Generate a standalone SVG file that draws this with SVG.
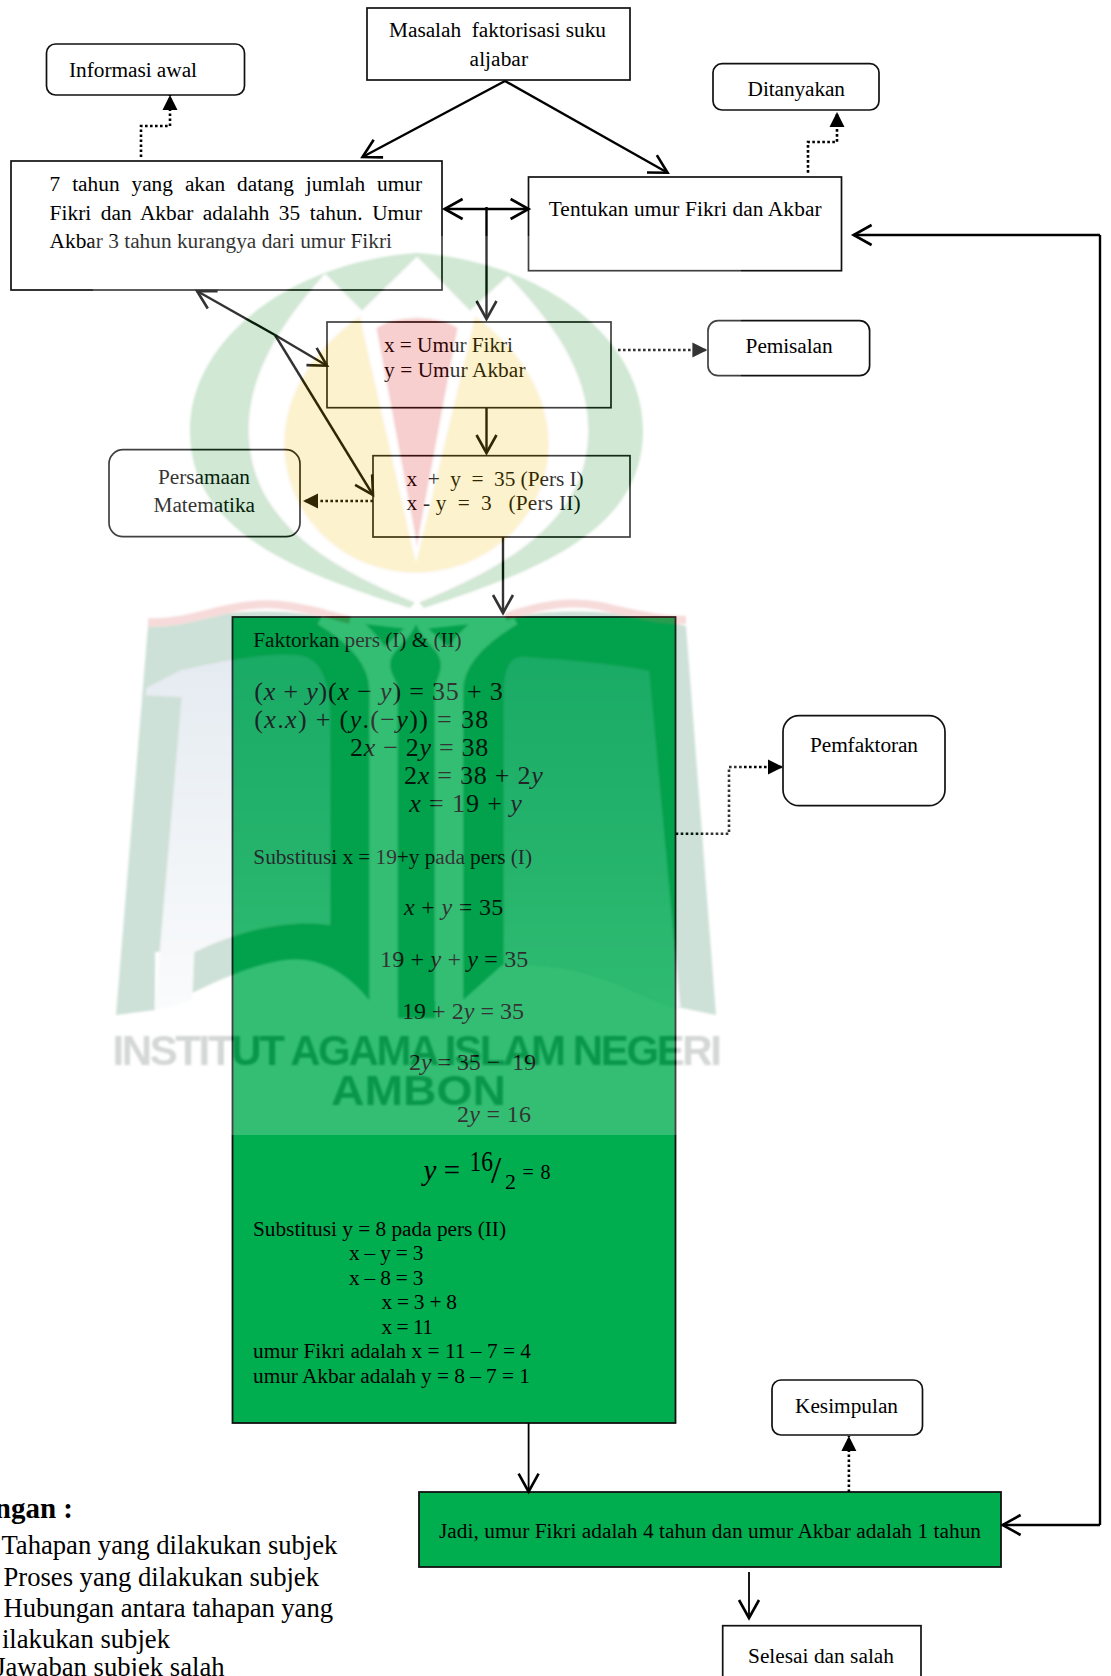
<svg xmlns="http://www.w3.org/2000/svg" width="1111" height="1676" viewBox="0 0 1111 1676">
<style>
text{font-family:"Liberation Serif","Times New Roman",serif;font-size:21.33px;fill:#000;white-space:pre}
.m{font-size:26px}
.n{font-size:24px}
.i{font-style:italic}
.l{font-size:26.67px}
.b{fill:#fff;stroke:#111;stroke-width:1.7}
.g{fill:#00ae50;stroke:#111;stroke-width:1.8}
.c{fill:none;stroke:#000;stroke-width:2.4}
.t{fill:none;stroke:#000;stroke-width:1.8}
.d{fill:none;stroke:#000;stroke-width:2.6;stroke-dasharray:2.6 2.4}
.wm{font-family:"Liberation Sans",Arial,sans-serif;font-weight:700;font-size:42px;fill:#2a3a35}
</style>
<defs>
<marker id="open" markerUnits="userSpaceOnUse" markerWidth="24" markerHeight="26" refX="20" refY="12" orient="auto-start-reverse" overflow="visible"><path d="M2 2L20 12L2 22" fill="none" stroke="#000" stroke-width="2.6"/></marker>
<marker id="solid" markerUnits="userSpaceOnUse" markerWidth="16" markerHeight="16" refX="15" refY="8" orient="auto" overflow="visible"><path d="M0 .5L15 8L0 15.5Z" fill="#000"/></marker>
<linearGradient id="page" gradientUnits="userSpaceOnUse" x1="0" y1="660" x2="0" y2="1010"><stop offset="0" stop-color="#80a0bc"/><stop offset="1" stop-color="#e8eef4"/></linearGradient>
<filter id="soft"><feGaussianBlur stdDeviation="0.8"/></filter>
</defs>
<rect width="1111" height="1676" fill="#fff"/>

<g id="n-masalah"><rect class="b" x="367" y="8" width="263" height="72"/><text x="389" y="37.3" textLength="217">Masalah  faktorisasi suku</text><text x="469.6" y="65.7" textLength="58.4">aljabar</text></g>
<g id="n-informasi"><rect class="b" x="46.5" y="44" width="198" height="51" rx="9"/><text x="69" y="77" textLength="128">Informasi awal</text></g>
<g id="n-ditanyakan"><rect class="b" x="713" y="63.7" width="166" height="46.3" rx="9"/><text x="747.6" y="96" textLength="97.4">Ditanyakan</text></g>
<g id="n-soal"><rect class="b" x="11" y="161" width="431" height="129"/>
<text x="49.6" y="191" word-spacing="6.6" textLength="372.4">7 tahun yang akan datang jumlah umur</text>
<text x="49.6" y="220" word-spacing="4.1" textLength="372.4">Fikri dan Akbar adalahh 35 tahun. Umur</text>
<text x="49.6" y="248" textLength="342.4">Akbar 3 tahun kurangya dari umur Fikri</text></g>
<g id="n-tentukan"><rect class="b" x="528.5" y="177" width="313" height="93.7"/><text x="548.7" y="216" textLength="272.9">Tentukan umur Fikri dan Akbar</text></g>
<g id="n-pemisalan"><rect class="b" x="708" y="320.7" width="161.6" height="55" rx="10"/><text x="745.6" y="353" textLength="87">Pemisalan</text></g>
<g id="n-umur"><rect class="b" x="327" y="322" width="284" height="85.7"/><text x="384" y="352" textLength="129">x = Umur Fikri</text><text x="384" y="376.7" textLength="141.5">y = Umur Akbar</text></g>
<g id="n-persamaan"><rect class="b" x="109" y="449.7" width="191" height="87" rx="14"/><text x="158" y="484" textLength="92">Persamaan</text><text x="153.5" y="511.7" textLength="101.5">Matematika</text></g>
<g id="n-pers"><rect class="b" x="373" y="455.7" width="257" height="81.3"/><text x="406.5" y="486" textLength="177.2">x  +  y  =  35 (Pers I)</text><text x="406.5" y="510" textLength="174.1">x - y  =  3   (Pers II)</text></g>
<g id="n-pemfaktoran"><rect class="b" x="783" y="715.7" width="162" height="90" rx="16"/><text x="810" y="751.7" textLength="108">Pemfaktoran</text></g>

<g id="n-faktorkan"><rect class="g" x="232.5" y="617" width="443" height="806"/>
<text x="253.3" y="647" textLength="208.4">Faktorkan pers (I) &amp; (II)</text>
<text class="m" x="254.3" y="700" textLength="248.4">(<tspan class="i">x</tspan> + <tspan class="i">y</tspan>)(<tspan class="i">x</tspan> − <tspan class="i">y</tspan>) = 35 + 3</text>
<text class="m" x="254.3" y="728" textLength="234">(<tspan class="i">x</tspan>.<tspan class="i">x</tspan>) + (<tspan class="i">y</tspan>.(−<tspan class="i">y</tspan>)) = 38</text>
<text class="m" x="350" y="756" textLength="138.3">2<tspan class="i">x</tspan> − 2<tspan class="i">y</tspan> = 38</text>
<text class="m" x="404" y="784" textLength="138.7">2<tspan class="i">x</tspan> = 38 + 2<tspan class="i">y</tspan></text>
<text class="m" x="409.3" y="812" textLength="112.4"><tspan class="i">x</tspan> = 19 + <tspan class="i">y</tspan></text>
<text x="253.3" y="864" textLength="278.7">Substitusi x = 19+y pada pers (I)</text>
<text class="n" x="404" y="915" textLength="99.3"><tspan class="i">x</tspan> + <tspan class="i">y</tspan> = 35</text>
<text class="n" x="380" y="967" textLength="148.3">19 + <tspan class="i">y</tspan> + <tspan class="i">y</tspan> = 35</text>
<text class="n" x="402" y="1018.7" textLength="122">19 + 2<tspan class="i">y</tspan> = 35</text>
<text class="n" x="409" y="1070" textLength="127">2<tspan class="i">y</tspan> = 35 −  19</text>
<text class="n" x="457" y="1122" textLength="74">2<tspan class="i">y</tspan> = 16</text>
<text x="423.5" y="1180" textLength="36.5" style="font-size:29px"><tspan class="i">y</tspan> =</text>
<text x="469.6" y="1171" textLength="23.4" lengthAdjust="spacingAndGlyphs" style="font-size:29px">16</text>
<text x="491" y="1183" style="font-size:37px">/</text>
<text x="505" y="1189" style="font-size:22px">2</text>
<text x="522.6" y="1179" textLength="27.8" style="font-size:20px">= 8</text>
<text x="253" y="1236" textLength="253">Substitusi y = 8 pada pers (II)</text>
<text x="349" y="1260" textLength="74.5">x – y = 3</text>
<text x="349" y="1285" textLength="74.5">x – 8 = 3</text>
<text x="381.4" y="1309" textLength="75.6">x = 3 + 8</text>
<text x="381.4" y="1334" textLength="51.6">x = 11</text>
<text x="253" y="1357.7" textLength="278">umur Fikri adalah x = 11 – 7 = 4</text>
<text x="253" y="1382.7" textLength="277">umur Akbar adalah y = 8 – 7 = 1</text></g>

<g id="n-kesimpulan"><rect class="b" x="772" y="1380" width="150.5" height="55" rx="9"/><text x="795" y="1412.7" textLength="103">Kesimpulan</text></g>
<g id="n-jadi"><rect class="g" x="419" y="1492" width="582" height="75"/><text x="439" y="1537.7" textLength="542">Jadi, umur Fikri adalah 4 tahun dan umur Akbar adalah 1 tahun</text></g>
<g id="n-selesai"><rect class="b" x="722.7" y="1625.7" width="198.3" height="60"/><text x="748" y="1663" textLength="146">Selesai dan salah</text></g>

<g id="legend">
<text x="73" y="1518" text-anchor="end" font-weight="700" style="font-size:29px">ngan :</text>
<text class="l" x="1.4" y="1554" textLength="336">Tahapan yang dilakukan subjek</text>
<text class="l" x="3.5" y="1586" textLength="315.5">Proses yang dilakukan subjek</text>
<text class="l" x="3.5" y="1616.7" textLength="329.5">Hubungan antara tahapan yang</text>
<text class="l" x="170" y="1647.7" text-anchor="end">ilakukan subjek</text>
<text class="l" x="224.6" y="1676" text-anchor="end">Jawaban subjek salah</text>
</g>

<g id="connectors">
<path class="c" marker-end="url(#open)" d="M505 81L362.5 157"/>
<path class="c" marker-end="url(#open)" d="M505 81L667.6 172.7"/>
<path class="c" marker-start="url(#open)" marker-end="url(#open)" d="M444.6 209H528.6"/>
<path class="c" marker-end="url(#open)" d="M486.5 207V319"/>
<path class="c" marker-end="url(#open)" d="M486.5 408V453"/>
<path class="c" marker-end="url(#open)" d="M503 537V613"/>
<path class="c" marker-end="url(#open)" d="M275 335L197 291"/>
<path class="c" marker-end="url(#open)" d="M275 335L327 365.7"/>
<path class="c" marker-end="url(#open)" d="M275 335L373 495"/>
<path class="c" marker-end="url(#open)" d="M1100 235H853.6"/>
<path class="c" d="M1100 235V1525"/>
<path class="c" marker-end="url(#open)" d="M1100 1525H1002.6"/>
<path class="t" marker-end="url(#open)" d="M528.6 1423V1491.7"/>
<path class="t" marker-end="url(#open)" d="M749 1572V1618"/>
<path class="d" marker-end="url(#solid)" d="M141 157V126H170V95"/>
<path class="d" marker-end="url(#solid)" d="M808 172.7V142H837V112"/>
<path class="d" marker-end="url(#solid)" d="M618 350H707.4"/>
<path class="d" marker-end="url(#solid)" d="M373 501H303"/>
<path class="d" marker-end="url(#solid)" d="M675.7 833.7H729V767H783"/>
<path class="d" marker-end="url(#solid)" d="M848.9 1492V1436"/>
</g>

<g id="watermark" opacity="0.2">
<rect x="93" y="236" width="648" height="899" fill="#fff"/>
<g filter="url(#soft)">
<path fill="#1a8f2e" d="M410 608C290 570 190 530 190 430C190 340 290 262 417 253C546 262 643 340 643 430C643 530 540 570 424 608L417 600Z"/>
<path fill="#fff" d="M417 603C310 560 249 510 249 430C249 370 285 320 325 274L362 311L417 257L470 311L508 276C550 320 588 370 588 430C588 510 525 560 417 603Z"/>
<path fill="#f5c30f" d="M284 444C284 390 318 345 360 316L417 330L475 316C515 345 549 390 549 444C549 515 490 573 416 573C342 573 284 515 284 444Z"/>
<path fill="#fff" d="M360 316C375 312 455 312 475 316L416 562Z"/>
<path fill="#dc1419" d="M376 328C395 314 440 314 458 328L417 547Z"/>
<path fill="#0f7040" d="M148 626C200 610 300 605 345 622L416 630L490 622C540 605 640 610 686 626L716 1015L682 1008L671 1007C620 985 580 965 529 965L502 965L463 1000H435V1018H398V1000H369C350 975 320 955 284 960C250 965 220 980 192 993V952H155L155 1010L116 1015Z"/>
<path fill="url(#page)" d="M184 670C230 660 280 650 306 657C325 665 330 690 330 720V925C300 920 250 925 194 952L192 1000L155 1010L182 697L146 695L147 688L182 670Z"/>
<path fill="url(#page)" d="M504 690C504 670 510 657 522 657C570 660 620 665 649 671L680 1007H671C620 985 580 965 529 965H504Z"/>
<path fill="none" stroke="#fff" stroke-width="28" d="M383.5 1000V690C383.5 655 355 630 325 612"/>
<path fill="none" stroke="#fff" stroke-width="28" d="M449 1000V690C449 655 480 630 510 612"/>
<path fill="#fff" d="M370 660L416 618L463 660V690H370Z"/>
<path fill="#0f7040" d="M416 624C426 645 441 650 441 665C441 675 435 682 435 690V1000H398V690C398 682 390 675 390 665C390 650 406 645 416 624Z"/>
<path fill="none" stroke="#d95050" stroke-width="8" d="M148 622C190 625 230 600 280 605C310 608 330 615 350 620"/>
<path fill="none" stroke="#d95050" stroke-width="8" d="M505 617C540 605 570 600 600 606C640 615 660 620 686 620"/>
<text class="wm" x="112.4" y="1065" textLength="609.6">INSTITUT AGAMA ISLAM NEGERI</text>
<text class="wm" x="331" y="1105" textLength="175" lengthAdjust="spacingAndGlyphs">AMBON</text>
</g>
</g>
</svg>
